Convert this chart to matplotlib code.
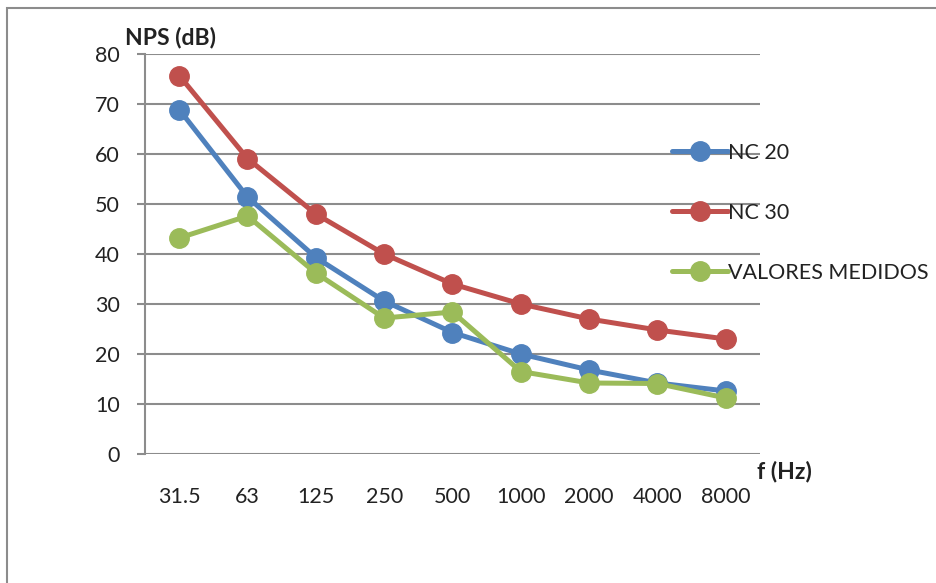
import matplotlib.pyplot as plt
from matplotlib.patches import Rectangle

plt.rcParams['font.family'] = ['Lato', 'DejaVu Sans']

freqs = ['31.5', '63', '125', '250', '500', '1000', '2000', '4000', '8000']
nc20 = [68.9, 51.4, 39.3, 30.6, 24.3, 20.0, 16.8, 14.2, 12.6]
nc30 = [75.7, 59.1, 48.0, 40.0, 34.0, 30.0, 27.0, 24.8, 23.0]
medidos = [43.2, 47.6, 36.2, 27.2, 28.4, 16.5, 14.2, 14.1, 11.2]

series = [('NC 20', nc20, '#4F81BD'),
          ('NC 30', nc30, '#C0504D'),
          ('VALORES MEDIDOS', medidos, '#9BBB59')]

fig = plt.figure(figsize=(9.37, 5.83), dpi=100)
ax = fig.add_axes([145/937, 1 - 454/583, 615/937, 400/583])

x = list(range(len(freqs)))
handles = []
for name, vals, col in series:
    h, = ax.plot(x, vals, color=col, lw=3.6, marker='o', ms=14,
                 label=name, solid_capstyle='round', zorder=3)
    handles.append(h)

ax.set_xlim(-0.5, len(freqs) - 0.5)
ax.set_ylim(0, 80)
ax.set_yticks(range(0, 81, 10))
ax.set_xticks(x)
ax.set_xticklabels(freqs)
ax.yaxis.grid(True, color='#8c8c8c', lw=1.5)
ax.set_axisbelow(True)
for s in ['top', 'right', 'bottom']:
    ax.spines[s].set_visible(False)
ax.spines['left'].set_color('#8c8c8c')
ax.spines['left'].set_linewidth(1.5)
ax.tick_params(axis='y', length=6, width=1.5, color='#8c8c8c', pad=12,
               labelsize=15.5, labelcolor='#222222')
ax.tick_params(axis='x', length=0, pad=24, labelsize=15.5, labelcolor='#222222')

fig.text(125/937, 1 - 38/583, 'NPS (dB)', fontsize=16.5, fontweight='bold',
         color='#222222', va='center', ha='left')
fig.text(757/937, 1 - 472/583, 'f (Hz)', fontsize=16.5, fontweight='bold',
         color='#222222', va='center', ha='left')

leg = fig.legend(handles=handles, loc='upper left',
                 bbox_to_anchor=(672/937, 1 - 143/583), frameon=False,
                 fontsize=15.5, handlelength=2.6, handletextpad=0.0,
                 labelspacing=1.85, borderaxespad=0, borderpad=0,
                 labelcolor='#222222')

# chart border
fig.patches.append(Rectangle((7/937, -0.1), 1.2, 1 - 8/583 + 0.1,
                             transform=fig.transFigure, fill=False,
                             edgecolor='#8c8c8c', lw=1.5))

fig.savefig('out.png', dpi=100)
